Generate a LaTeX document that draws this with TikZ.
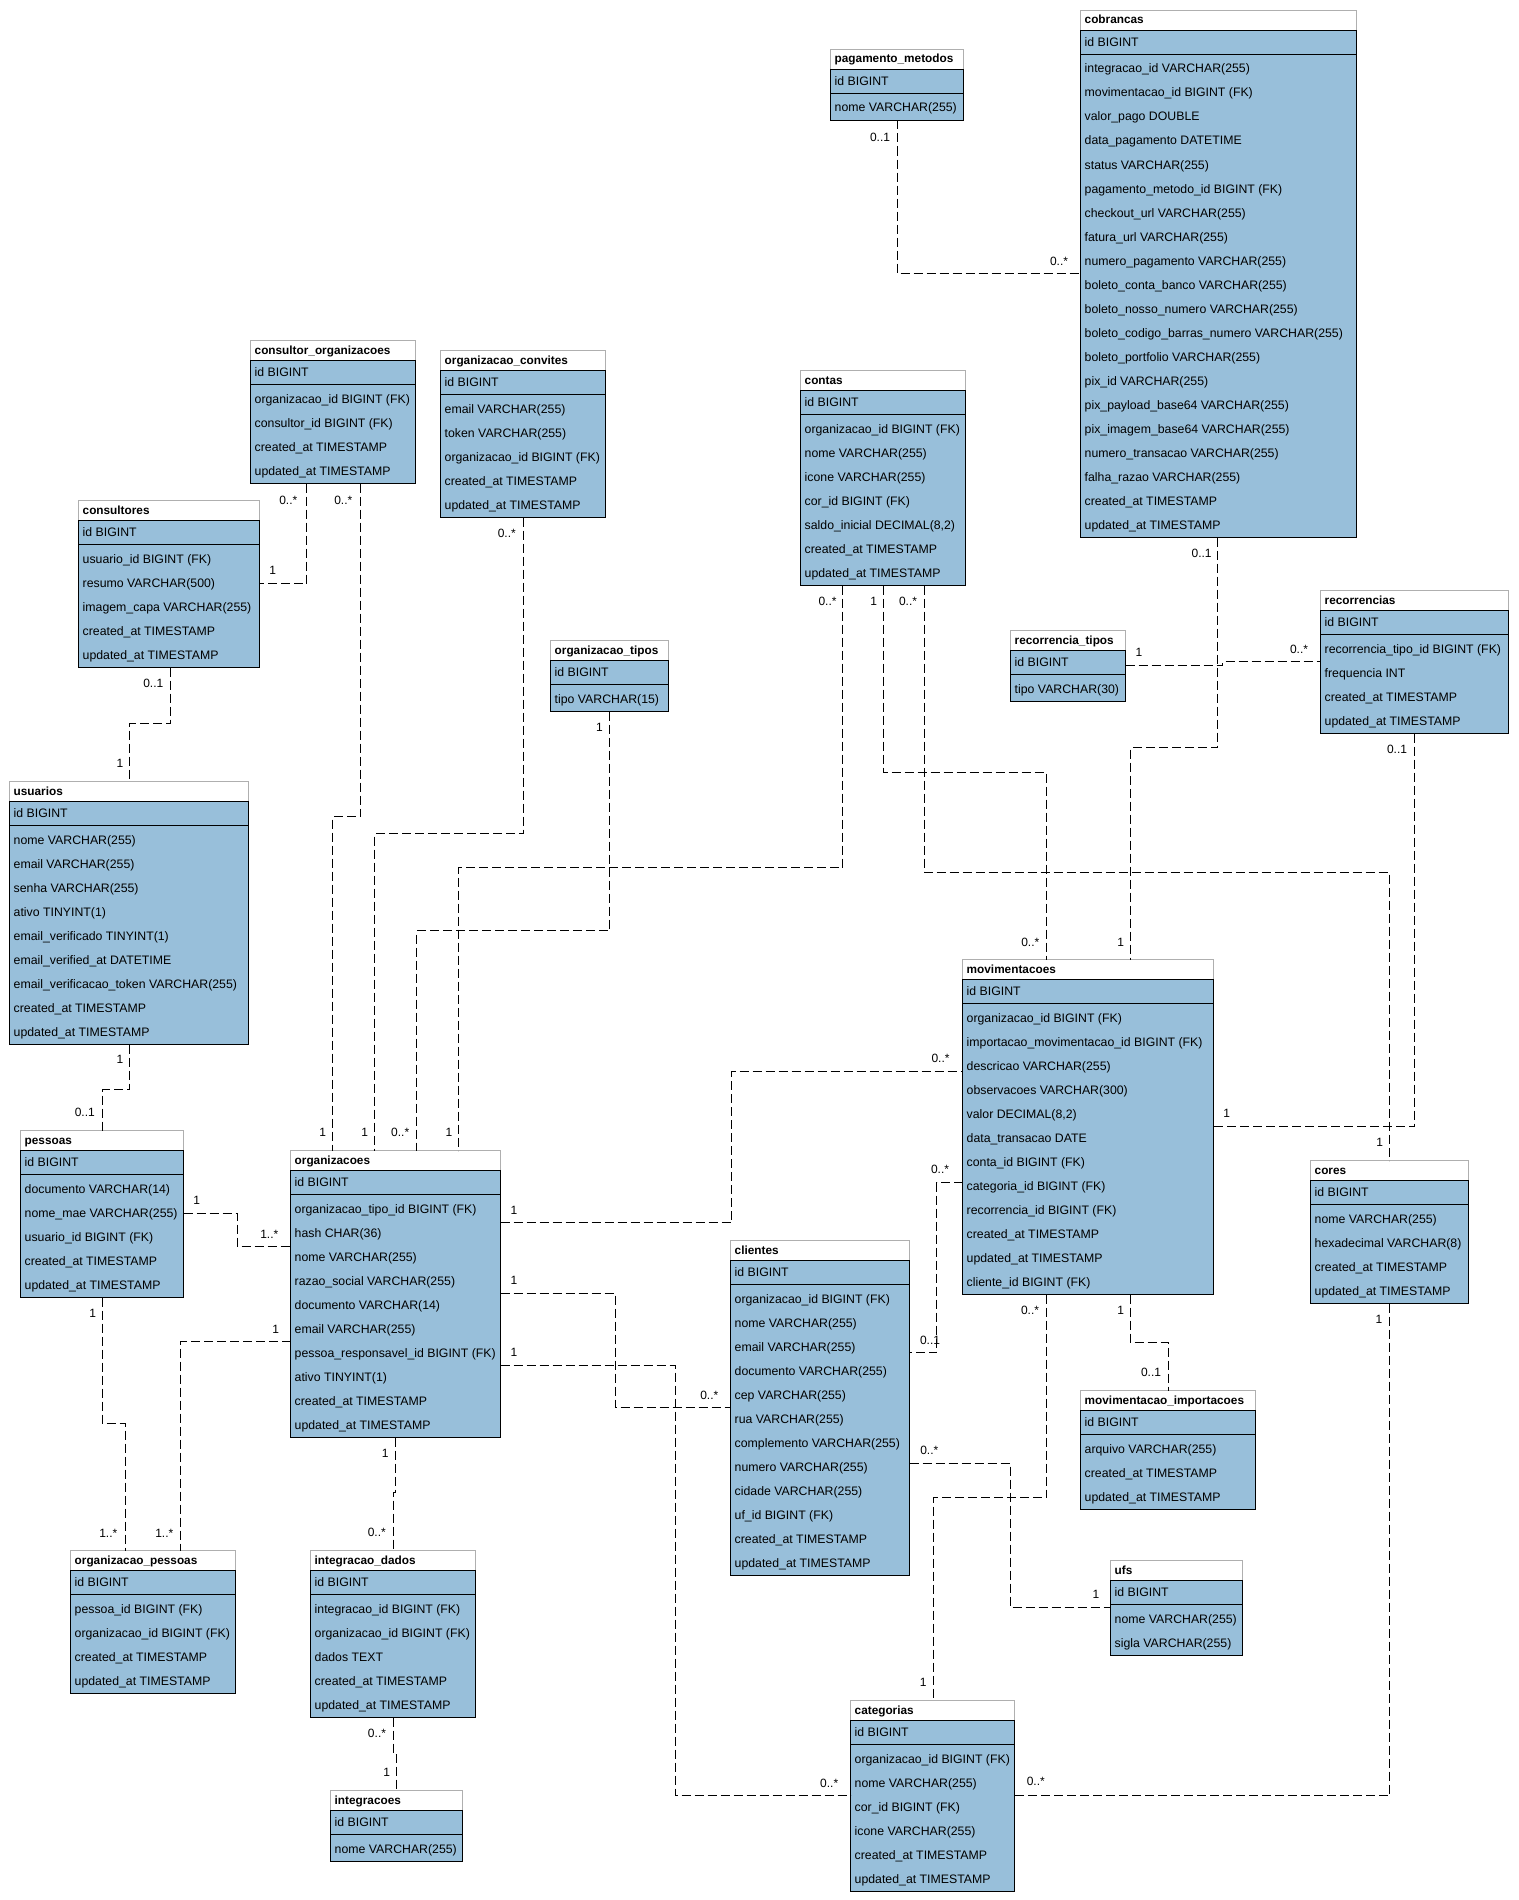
\documentclass[tikz,border=0pt]{standalone}
\usepackage{fontspec}
\setmainfont{Liberation Sans}
\definecolor{tblblue}{RGB}{152,191,218}
\definecolor{tblgray}{RGB}{175,175,175}
\tikzset{
  tblbox/.style={draw=none,fill=white,inner sep=0pt,outer sep=0pt},
  tblline/.style={draw=black,line width=1pt},
  tbltitleline/.style={draw=tblgray,line width=1pt},
  tbltext/.style={anchor=base west,inner sep=0pt,font=\fontsize{12.3}{14}\selectfont},
  tbltitle/.style={anchor=base west,inner sep=0pt,font=\fontsize{11.8}{14}\selectfont\bfseries},
  rel/.style={draw=black,line width=1pt,dash pattern=on 9pt off 4pt},
  card/.style={inner sep=0pt,font=\fontsize{12}{14}\selectfont}
}
\newcommand\dbtable[7]{%
  \pgfmathsetmacro\dbH{47+24*#5}%
  \node[tblbox,minimum width=#4pt,minimum height=\dbH pt,anchor=north west] (#1) at (#2,#3) {};
  \fill[tblblue] ([yshift=-20pt]#1.north west) rectangle (#1.south east);
  \draw[tbltitleline] ([yshift=-20pt]#1.north west) |- (#1.north east) -- ([yshift=-20pt]#1.north east);
  \draw[tblline] ([yshift=-20pt]#1.north west) rectangle (#1.south east);
  \draw[tblline] ([yshift=-44pt]#1.north west) -- ([yshift=-44pt]#1.north east);
  \node[tbltitle] (#1-title) at ([xshift=4pt,yshift=-13.5pt]#1.north west) {#6};
  \node[tbltext] (#1-id) at ([xshift=4pt,yshift=-36pt]#1.north west) {id BIGINT};
  \foreach \rowtext [count=\i] in {#7} {%
    \pgfmathsetmacro\dbY{-62.5-24*(\i-1)}%
    \node[tbltext] (#1-r\i) at ([xshift=4pt,yshift=\dbY pt]#1.north west) {\rowtext};
  }%
}
\begin{document}
\begin{tikzpicture}[x=1pt,y=-1pt]
\fill[white] (0,0) rectangle (1518,1900);
\useasboundingbox (0,0) rectangle (1518,1900);

% ---------- tables ----------
\dbtable{pm}{830.5}{49.5}{133}{1}{pagamento\_metodos}{nome VARCHAR(255)}
\dbtable{cob}{1080.5}{10.5}{276}{20}{cobrancas}{%
integracao\_id VARCHAR(255),%
movimentacao\_id BIGINT (FK),%
valor\_pago DOUBLE,%
data\_pagamento DATETIME,%
status VARCHAR(255),%
pagamento\_metodo\_id BIGINT (FK),%
checkout\_url VARCHAR(255),%
fatura\_url VARCHAR(255),%
numero\_pagamento VARCHAR(255),%
boleto\_conta\_banco VARCHAR(255),%
boleto\_nosso\_numero VARCHAR(255),%
boleto\_codigo\_barras\_numero VARCHAR(255),%
boleto\_portfolio VARCHAR(255),%
pix\_id VARCHAR(255),%
pix\_payload\_base64 VARCHAR(255),%
pix\_imagem\_base64 VARCHAR(255),%
numero\_transacao VARCHAR(255),%
falha\_razao VARCHAR(255),%
created\_at TIMESTAMP,%
updated\_at TIMESTAMP}
\dbtable{co}{250.5}{340.5}{165}{4}{consultor\_organizacoes}{%
organizacao\_id BIGINT (FK),%
consultor\_id BIGINT (FK),%
created\_at TIMESTAMP,%
updated\_at TIMESTAMP}
\dbtable{conv}{440.5}{350.5}{165}{5}{organizacao\_convites}{%
email VARCHAR(255),%
token VARCHAR(255),%
organizacao\_id BIGINT (FK),%
created\_at TIMESTAMP,%
updated\_at TIMESTAMP}
\dbtable{cons}{78.5}{500.5}{181}{5}{consultores}{%
usuario\_id BIGINT (FK),%
resumo VARCHAR(500),%
imagem\_capa VARCHAR(255),%
created\_at TIMESTAMP,%
updated\_at TIMESTAMP}
\dbtable{usu}{9.5}{781.5}{239}{9}{usuarios}{%
nome VARCHAR(255),%
email VARCHAR(255),%
senha VARCHAR(255),%
ativo TINYINT(1),%
email\_verificado TINYINT(1),%
email\_verified\_at DATETIME,%
email\_verificacao\_token VARCHAR(255),%
created\_at TIMESTAMP,%
updated\_at TIMESTAMP}
\dbtable{pes}{20.5}{1130.5}{163}{5}{pessoas}{%
documento VARCHAR(14),%
nome\_mae VARCHAR(255),%
usuario\_id BIGINT (FK),%
created\_at TIMESTAMP,%
updated\_at TIMESTAMP}
\dbtable{org}{290.5}{1150.5}{210}{10}{organizacoes}{%
organizacao\_tipo\_id BIGINT (FK),%
hash CHAR(36),%
nome VARCHAR(255),%
razao\_social VARCHAR(255),%
documento VARCHAR(14),%
email VARCHAR(255),%
pessoa\_responsavel\_id BIGINT (FK),%
ativo TINYINT(1),%
created\_at TIMESTAMP,%
updated\_at TIMESTAMP}
\dbtable{otipos}{550.5}{640.5}{118}{1}{organizacao\_tipos}{tipo VARCHAR(15)}
\dbtable{contas}{800.5}{370.5}{165}{7}{contas}{%
organizacao\_id BIGINT (FK),%
nome VARCHAR(255),%
icone VARCHAR(255),%
cor\_id BIGINT (FK),%
{saldo\_inicial DECIMAL(8,2)},%
created\_at TIMESTAMP,%
updated\_at TIMESTAMP}
\dbtable{rtipos}{1010.5}{630.5}{115}{1}{recorrencia\_tipos}{tipo VARCHAR(30)}
\dbtable{rec}{1320.5}{590.5}{188}{4}{recorrencias}{%
recorrencia\_tipo\_id BIGINT (FK),%
frequencia INT,%
created\_at TIMESTAMP,%
updated\_at TIMESTAMP}
\dbtable{mov}{962.5}{959.5}{251}{12}{movimentacoes}{%
organizacao\_id BIGINT (FK),%
importacao\_movimentacao\_id BIGINT (FK),%
descricao VARCHAR(255),%
observacoes VARCHAR(300),%
{valor DECIMAL(8,2)},%
data\_transacao DATE,%
conta\_id BIGINT (FK),%
categoria\_id BIGINT (FK),%
recorrencia\_id BIGINT (FK),%
created\_at TIMESTAMP,%
updated\_at TIMESTAMP,%
cliente\_id BIGINT (FK)}
\dbtable{cores}{1310.5}{1160.5}{158}{4}{cores}{%
nome VARCHAR(255),%
hexadecimal VARCHAR(8),%
created\_at TIMESTAMP,%
updated\_at TIMESTAMP}
\dbtable{cli}{730.5}{1240.5}{179}{12}{clientes}{%
organizacao\_id BIGINT (FK),%
nome VARCHAR(255),%
email VARCHAR(255),%
documento VARCHAR(255),%
cep VARCHAR(255),%
rua VARCHAR(255),%
complemento VARCHAR(255),%
numero VARCHAR(255),%
cidade VARCHAR(255),%
uf\_id BIGINT (FK),%
created\_at TIMESTAMP,%
updated\_at TIMESTAMP}
\dbtable{mimp}{1080.5}{1390.5}{175}{3}{movimentacao\_importacoes}{%
arquivo VARCHAR(255),%
created\_at TIMESTAMP,%
updated\_at TIMESTAMP}
\dbtable{ufs}{1110.5}{1560.5}{132}{2}{ufs}{%
nome VARCHAR(255),%
sigla VARCHAR(255)}
\dbtable{opes}{70.5}{1550.5}{165}{4}{organizacao\_pessoas}{%
pessoa\_id BIGINT (FK),%
organizacao\_id BIGINT (FK),%
created\_at TIMESTAMP,%
updated\_at TIMESTAMP}
\dbtable{idados}{310.5}{1550.5}{165}{5}{integracao\_dados}{%
integracao\_id BIGINT (FK),%
organizacao\_id BIGINT (FK),%
dados TEXT,%
created\_at TIMESTAMP,%
updated\_at TIMESTAMP}
\dbtable{integ}{330.5}{1790.5}{132}{1}{integracoes}{nome VARCHAR(255)}
\dbtable{cat}{850.5}{1700.5}{164}{6}{categorias}{%
organizacao\_id BIGINT (FK),%
nome VARCHAR(255),%
cor\_id BIGINT (FK),%
icone VARCHAR(255),%
created\_at TIMESTAMP,%
updated\_at TIMESTAMP}

% ---------- connectors ----------
\draw[rel] (pm.south -| 897.5,0) -- (897.5,273.5) -- (cob.west |- 0,273.5);
\draw[rel] (cob.south -| 1217.5,0) -- (1217.5,747.5) -- (1130.5,747.5) -- (mov.north -| 1130.5,0);
\draw[rel] (rtipos.east |- 0,665.5) -- (1222.5,665.5) -- (1222.5,661.5) -- (rec.west |- 0,661.5);
\draw[rel] (rec.south -| 1414.5,0) -- (1414.5,1126.5) -- (mov.east |- 0,1126.5);
\draw[rel] (contas.south -| 842.5,0) -- (842.5,867.5) -- (458.5,867.5) -- (org.north -| 458.5,0);
\draw[rel] (contas.south -| 883.5,0) -- (883.5,772.5) -- (1046.5,772.5) -- (mov.north -| 1046.5,0);
\draw[rel] (contas.south -| 924.5,0) -- (924.5,872.5) -- (1389.5,872.5) -- (cores.north -| 1389.5,0);
\draw[rel] (co.south -| 306.5,0) -- (306.5,583.5) -- (cons.east |- 0,583.5);
\draw[rel] (co.south -| 360.5,0) -- (360.5,816.5) -- (332.5,816.5) -- (org.north -| 332.5,0);
\draw[rel] (conv.south -| 523.5,0) -- (523.5,833.5) -- (374.5,833.5) -- (org.north -| 374.5,0);
\draw[rel] (otipos.south -| 609.5,0) -- (609.5,930.5) -- (416.5,930.5) -- (org.north -| 416.5,0);
\draw[rel] (cons.south -| 170.5,0) -- (170.5,723.5) -- (129.5,723.5) -- (usu.north -| 129.5,0);
\draw[rel] (usu.south -| 129.5,0) -- (129.5,1089.5) -- (102.5,1089.5) -- (pes.north -| 102.5,0);
\draw[rel] (pes.east |- 0,1213.5) -- (237.5,1213.5) -- (237.5,1246.5) -- (org.west |- 0,1246.5);
\draw[rel] (pes.south -| 102.5,0) -- (102.5,1423.5) -- (125.5,1423.5) -- (opes.north -| 125.5,0);
\draw[rel] (org.west |- 0,1341.5) -- (180.5,1341.5) -- (opes.north -| 180.5,0);
\draw[rel] (org.east |- 0,1222.5) -- (731.5,1222.5) -- (731.5,1071.5) -- (mov.west |- 0,1071.5);
\draw[rel] (org.east |- 0,1293.5) -- (615.5,1293.5) -- (615.5,1407.5) -- (cli.west |- 0,1407.5);
\draw[rel] (org.east |- 0,1365.5) -- (675.5,1365.5) -- (675.5,1795.5) -- (cat.west |- 0,1795.5);
\draw[rel] (org.south -| 395.5,0) -- (395.5,1492.5) -- (393.5,1492.5) -- (idados.north -| 393.5,0);
\draw[rel] (idados.south -| 393.5,0) -- (393.5,1754.5) -- (396.5,1754.5) -- (integ.north -| 396.5,0);
\draw[rel] (mov.west |- 0,1182.5) -- (936.5,1182.5) -- (936.5,1352.5) -- (cli.east |- 0,1352.5);
\draw[rel] (mov.south -| 1046.5,0) -- (1046.5,1497.5) -- (933.5,1497.5) -- (cat.north -| 933.5,0);
\draw[rel] (mov.south -| 1130.5,0) -- (1130.5,1342.5) -- (1168.5,1342.5) -- (mimp.north -| 1168.5,0);
\draw[rel] (cli.east |- 0,1463.5) -- (1010.5,1463.5) -- (1010.5,1607.5) -- (ufs.west |- 0,1607.5);
\draw[rel] (cores.south -| 1389.5,0) -- (1389.5,1795.5) -- (cat.east |- 0,1795.5);

% ---------- multiplicities ----------
\node[card] (cA1) at (880,137.5) {0..1};
\node[card] (cA2) at (1059,261) {0..*};
\node[card] (cB1) at (1201.6,553) {0..1};
\node[card] (cB2) at (1120.6,942) {1};
\node[card] (cC1) at (1139,652) {1};
\node[card] (cC2) at (1299,649) {0..*};
\node[card] (cD1) at (1397,749.4) {0..1};
\node[card] (cD2) at (1226.8,1113.7) {1};
\node[card] (cE1a) at (827.5,601) {0..*};
\node[card] (cE1b) at (449,1132.5) {1};
\node[card] (cE2a) at (873.7,601) {1};
\node[card] (cE2b) at (1030.3,942) {0..*};
\node[card] (cE3a) at (908,601) {0..*};
\node[card] (cE3b) at (1379.7,1142.5) {1};
\node[card] (cF1a) at (288.3,500.7) {0..*};
\node[card] (cF1b) at (272.7,570.7) {1};
\node[card] (cF2a) at (343.3,500.7) {0..*};
\node[card] (cF2b) at (322.7,1132.5) {1};
\node[card] (cGa) at (506.8,533.3) {0..*};
\node[card] (cGb) at (364.8,1132.5) {1};
\node[card] (cHa) at (599.5,727.5) {1};
\node[card] (cHb) at (400.2,1132.5) {0..*};
\node[card] (cIa) at (153.3,683.6) {0..1};
\node[card] (cIb) at (120,763) {1};
\node[card] (cJa) at (120,1059.5) {1};
\node[card] (cJb) at (84.8,1112) {0..1};
\node[card] (cKa) at (196.7,1200.7) {1};
\node[card] (cKb) at (269.3,1234) {1..*};
\node[card] (cLa) at (92.7,1313.3) {1};
\node[card] (cLb) at (108.3,1533.3) {1..*};
\node[card] (cMa) at (275.7,1329) {1};
\node[card] (cMb) at (164.3,1533.3) {1..*};
\node[card] (cN1a) at (514,1210) {1};
\node[card] (cN1b) at (940.5,1058.5) {0..*};
\node[card] (cN2a) at (514,1280.7) {1};
\node[card] (cN2b) at (709.3,1395) {0..*};
\node[card] (cN3a) at (514,1352.7) {1};
\node[card] (cN3b) at (829.2,1783.3) {0..*};
\node[card] (cOa) at (385.2,1453.3) {1};
\node[card] (cOb) at (376.8,1532.3) {0..*};
\node[card] (cPa) at (377,1733.3) {0..*};
\node[card] (cPb) at (386.6,1772.7) {1};
\node[card] (cQa) at (940,1169) {0..*};
\node[card] (cQb) at (930,1340) {0..1};
\node[card] (cR1a) at (1030,1310.7) {0..*};
\node[card] (cR1b) at (923.3,1682.7) {1};
\node[card] (cR2a) at (1120.7,1310.7) {1};
\node[card] (cR2b) at (1151,1372.7) {0..1};
\node[card] (cSa) at (929.3,1450.3) {0..*};
\node[card] (cSb) at (1096,1594.3) {1};
\node[card] (cTa) at (1379,1319) {1};
\node[card] (cTb) at (1035.8,1781) {0..*};
\end{tikzpicture}
\end{document}
